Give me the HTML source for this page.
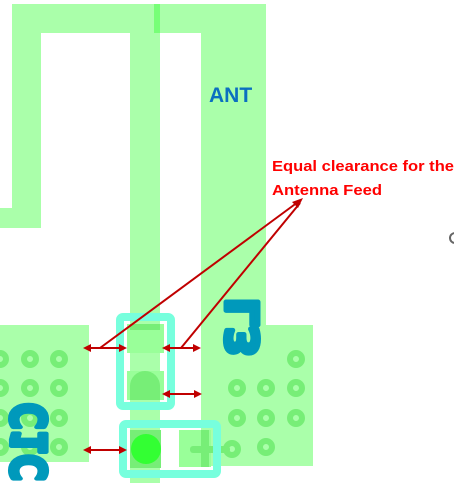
<!DOCTYPE html>
<html><head><meta charset="utf-8"><style>
html,body{margin:0;padding:0;background:#fff;width:454px;height:483px;overflow:hidden}
svg{display:block}
</style></head><body>
<svg width="454" height="483" viewBox="0 0 454 483">
<g fill="#aaffaa">
  <rect x="12" y="4" width="254" height="29"/>
  <rect x="12" y="4" width="29" height="224"/>
  <rect x="0" y="208" width="41" height="20"/>
  <rect x="130" y="4" width="30" height="479"/>
  <rect x="201" y="4" width="65" height="330"/>
  <rect x="201" y="325" width="112" height="141"/>
  <rect x="0" y="325" width="89" height="137"/>
</g>
<rect x="154" y="4" width="6" height="29" fill="#77ff77"/>
<g fill="none" stroke="#77ee77" stroke-width="6">
  <circle cx="0" cy="359" r="6"/><circle cx="30" cy="359" r="6"/><circle cx="59" cy="359" r="6"/>
  <circle cx="0" cy="388" r="6"/><circle cx="30" cy="388" r="6"/><circle cx="59" cy="388" r="6"/>
  <circle cx="0" cy="418" r="6"/><circle cx="30" cy="418" r="6"/><circle cx="59" cy="418" r="6"/>
  <circle cx="0" cy="447" r="6"/><circle cx="30" cy="447" r="6"/><circle cx="59" cy="447" r="6"/>
  <circle cx="296" cy="359" r="6"/>
  <circle cx="237" cy="388" r="6"/><circle cx="266" cy="388" r="6"/><circle cx="296" cy="388" r="6"/>
  <circle cx="237" cy="418" r="6"/><circle cx="266" cy="418" r="6"/><circle cx="296" cy="418" r="6"/>
  <circle cx="232" cy="449" r="6"/><circle cx="266" cy="447" r="6"/>
</g>
<g>
  <rect x="127" y="324" width="37" height="29" fill="#99ff99"/>
  <rect x="130" y="324" width="30" height="6" fill="#77ee77"/>
  <rect x="127" y="371" width="37" height="29" fill="#99ff99"/>
  <path d="M130 400 V386 A15 15 0 0 1 160 386 V400 Z" fill="#77ee77"/>
</g>
<rect x="120" y="317" width="51" height="89" rx="3" fill="none" stroke="#77ffdd" stroke-width="8"/>
<g>
  <rect x="130" y="430" width="31" height="38" fill="#77ee77"/>
  <circle cx="146" cy="449" r="15" fill="#33ff33"/>
  <rect x="179" y="430" width="32" height="37" fill="#99ff99"/>
  <rect x="201" y="430" width="8" height="37" fill="#77ee77"/>
  <rect x="190" y="446" width="40" height="7" rx="3" fill="#77ee77"/>
</g>
<rect x="123" y="424" width="94" height="50" rx="3" fill="none" stroke="#77ffdd" stroke-width="8"/>
<text x="209" y="102" font-family="Liberation Sans, sans-serif" font-weight="bold" font-size="21" fill="#0b6fc0">ANT</text>
<text transform="translate(258,298) rotate(90) scale(1,-1)" font-family="DejaVu Sans, sans-serif" font-weight="bold" font-size="44" fill="#0099bb" stroke="#0099bb" stroke-width="5" stroke-linejoin="round" stroke-linecap="round">L3</text>
<text transform="translate(46,403) rotate(90) scale(1,-1.3)" font-family="DejaVu Sans, sans-serif" font-weight="bold" font-size="36" fill="#0099bb" stroke="#0099bb" stroke-width="4" stroke-linejoin="round" stroke-linecap="round">C1C</text>
<g stroke="#c00000" stroke-width="2" fill="#c00000">
  <line x1="100" y1="348" x2="298" y2="202"/>
  <line x1="181" y1="348" x2="300" y2="203"/>
  <polygon points="303,198 292,202 298,208" stroke="none"/>
  <line x1="88" y1="348" x2="122" y2="348"/><polygon points="83,348 91,344 91,352" stroke="none"/><polygon points="127,348 119,344 119,352" stroke="none"/>
  <line x1="167" y1="348" x2="196" y2="348"/><polygon points="162,348 170,344 170,352" stroke="none"/><polygon points="201,348 193,344 193,352" stroke="none"/>
  <line x1="167" y1="394" x2="197" y2="394"/><polygon points="162,394 170,390 170,398" stroke="none"/><polygon points="202,394 194,390 194,398" stroke="none"/>
  <line x1="88" y1="450" x2="122" y2="450"/><polygon points="83,450 91,446 91,454" stroke="none"/><polygon points="127,450 119,446 119,454" stroke="none"/>
</g>
<g font-family="Liberation Sans, sans-serif" font-weight="bold" font-size="15" fill="#ff0000">
  <text x="272" y="171" textLength="182" lengthAdjust="spacingAndGlyphs">Equal clearance for the</text>
  <text x="272" y="195" textLength="110" lengthAdjust="spacingAndGlyphs">Antenna Feed</text>
</g>
<circle cx="455" cy="238" r="5" fill="none" stroke="#666" stroke-width="2"/>
</svg>
</body></html>
